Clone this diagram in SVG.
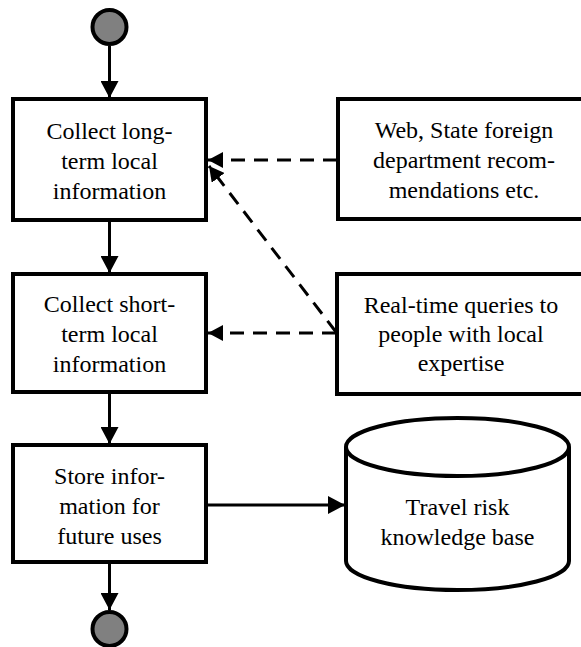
<svg xmlns="http://www.w3.org/2000/svg" width="581" height="647" viewBox="0 0 581 647">
<style>
.box{fill:#fff;stroke:#000;stroke-width:4}
.term{fill:#808080;stroke:#000;stroke-width:4}
.lbl{font-family:"Liberation Serif","Times New Roman","DejaVu Serif",serif;font-size:24px;fill:#000;text-anchor:middle}
.solid{fill:none;stroke:#000;stroke-width:3}
.dash{fill:none;stroke:#000;stroke-width:3;stroke-dasharray:14 9}
</style>
<defs>
<marker id="ah" markerUnits="userSpaceOnUse" markerWidth="18" markerHeight="18" viewBox="0 0 18 18" refX="17" refY="9" orient="auto">
<path d="M0,0 L17,9 L0,18 Z" fill="#000"/>
</marker>
<marker id="ahd" markerUnits="userSpaceOnUse" markerWidth="16" markerHeight="16" viewBox="0 0 16 16" refX="15" refY="8" orient="auto">
<path d="M0,0 L15,8 L0,16 Z" fill="#000"/>
</marker>
</defs>
<g id="connectors">
<line class="solid" x1="109.5" y1="46" x2="109.5" y2="98" marker-end="url(#ah)"/>
<line class="solid" x1="109.5" y1="221" x2="109.5" y2="273" marker-end="url(#ah)"/>
<line class="solid" x1="109.5" y1="393" x2="109.5" y2="444" marker-end="url(#ah)"/>
<line class="solid" x1="109.5" y1="563" x2="109.5" y2="610" marker-end="url(#ah)"/>
<line class="solid" x1="207" y1="505" x2="345" y2="505" marker-end="url(#ah)"/>
<line class="dash" x1="337" y1="160" x2="208" y2="160" marker-end="url(#ahd)"/>
<line class="dash" x1="336" y1="333" x2="208" y2="333" marker-end="url(#ahd)"/>
<line class="dash" x1="336" y1="332" x2="209" y2="166" marker-end="url(#ahd)"/>
</g>
<g id="start"><circle class="term" cx="109.5" cy="27" r="17"/></g>
<g id="collect-long">
<rect class="box" x="13" y="99" width="193" height="121"/>
<text class="lbl" x="109.5" y="139">Collect long-</text>
<text class="lbl" x="109.5" y="169">term local</text>
<text class="lbl" x="109.5" y="199">information</text>
</g>
<g id="collect-short">
<rect class="box" x="13" y="274" width="193" height="118"/>
<text class="lbl" x="109.5" y="312">Collect short-</text>
<text class="lbl" x="109.5" y="342">term local</text>
<text class="lbl" x="109.5" y="372">information</text>
</g>
<g id="store">
<rect class="box" x="13" y="445" width="193" height="117"/>
<text class="lbl" x="109.5" y="484">Store infor-</text>
<text class="lbl" x="109.5" y="514">mation for</text>
<text class="lbl" x="109.5" y="544">future uses</text>
</g>
<g id="end"><circle class="term" cx="109.5" cy="629" r="17"/></g>
<g id="web-source">
<rect class="box" x="338" y="99" width="252" height="120"/>
<text class="lbl" x="464" y="138">Web, State foreign</text>
<text class="lbl" x="464" y="168">department recom-</text>
<text class="lbl" x="464" y="198">mendations etc.</text>
</g>
<g id="realtime-source">
<rect class="box" x="337" y="274" width="250" height="120"/>
<text class="lbl" x="461" y="313">Real-time queries to</text>
<text class="lbl" x="461" y="342">people with local</text>
<text class="lbl" x="461" y="371">expertise</text>
</g>
<g id="knowledge-base">
<path class="box" d="M346,447 L346,561 A111.5,29 0 0 0 569,561 L569,447 A111.5,29 0 0 0 346,447 Z"/>
<path class="box" style="fill:none" d="M346,447 A111.5,29 0 0 0 569,447"/>
<text class="lbl" x="457.5" y="515">Travel risk</text>
<text class="lbl" x="457.5" y="545">knowledge base</text>
</g>
</svg>
